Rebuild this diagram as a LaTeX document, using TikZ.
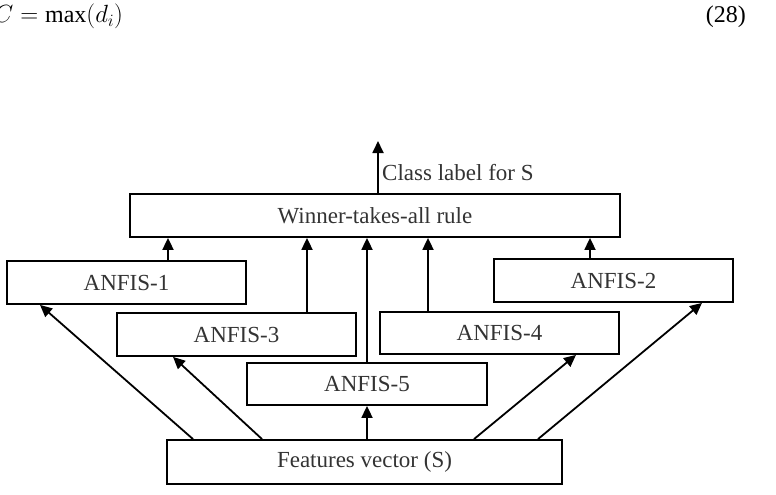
\documentclass[tikz,border=0pt]{standalone}
\usepackage{fontspec}
\setmainfont{Liberation Serif}
\usetikzlibrary{arrows.meta,calc}
\tikzset{
  box/.style={draw, line width=1.8pt, inner sep=0pt, minimum height=43pt,
    font=\fontsize{23}{26}\selectfont, text=black!80},
  arr/.style={line width=1.8pt, -{Triangle[length=12pt,width=11pt]}},
}
\begin{document}
\begin{tikzpicture}[x=1pt,y=-1pt]
\useasboundingbox (0,0) rectangle (776,495);
% equation line
\node[anchor=base west, inner sep=0pt, font=\fontsize{24}{28}\selectfont] (eq) at (-6,23) {$C=\max(d_i)$};
\node[anchor=base east, inner sep=0pt, font=\fontsize{24}{28}\selectfont] (eqn) at (746,23) {(28)};
% boxes
\node[box, minimum width=490pt] (win) at (375,215.5) {Winner-takes-all rule};
\node[box, minimum width=239pt] (a1) at (126.5,282.5) {ANFIS-1};
\node[box, minimum width=239pt] (a2) at (613.5,280.5) {ANFIS-2};
\node[box, minimum width=239pt] (a3) at (236.5,334.5) {ANFIS-3};
\node[box, minimum width=239pt, minimum height=42pt] (a4) at (499.5,333) {ANFIS-4};
\node[box, minimum width=240pt, minimum height=42pt] (a5) at (367,384) {ANFIS-5};
\node[box, minimum width=395pt, minimum height=44pt] (feat) at (364.5,462) {Features vector (S)};
% x positions
\coordinate (x1) at (168,0);
\coordinate (x3) at (307,0);
\coordinate (x5) at (367,0);
\coordinate (x4) at (428,0);
\coordinate (x2) at (590,0);
\coordinate (top) at (378,141);
\coordinate (f1) at (193,0);
\coordinate (t1) at (40,0);
\coordinate (f3) at (262,0);
\coordinate (t3) at (173,0);
\coordinate (f4) at (474,0);
\coordinate (t4) at (576,0);
\coordinate (f2) at (538,0);
\coordinate (t2) at (702,0);
% output
\draw[arr] (win.north -| top) -- (top);
\node[anchor=west, inner sep=0pt, font=\fontsize{23}{26}\selectfont, text=black!80] (lab) at (382,173) {Class label for S};
% into winner
\draw[arr] (a1.north -| x1) -- (win.south -| x1);
\draw[arr] (a3.north -| x3) -- (win.south -| x3);
\draw[arr] (a5.north -| x5) -- (win.south -| x5);
\draw[arr] (a4.north -| x4) -- (win.south -| x4);
\draw[arr] (a2.north -| x2) -- (win.south -| x2);
% from features
\draw[arr] (feat.north -| f1) -- (a1.south -| t1);
\draw[arr] (feat.north -| f3) -- (a3.south -| t3);
\draw[arr] (feat.north -| x5) -- (a5.south -| x5);
\draw[arr] (feat.north -| f4) -- (a4.south -| t4);
\draw[arr] (feat.north -| f2) -- (a2.south -| t2);
\end{tikzpicture}
\end{document}
